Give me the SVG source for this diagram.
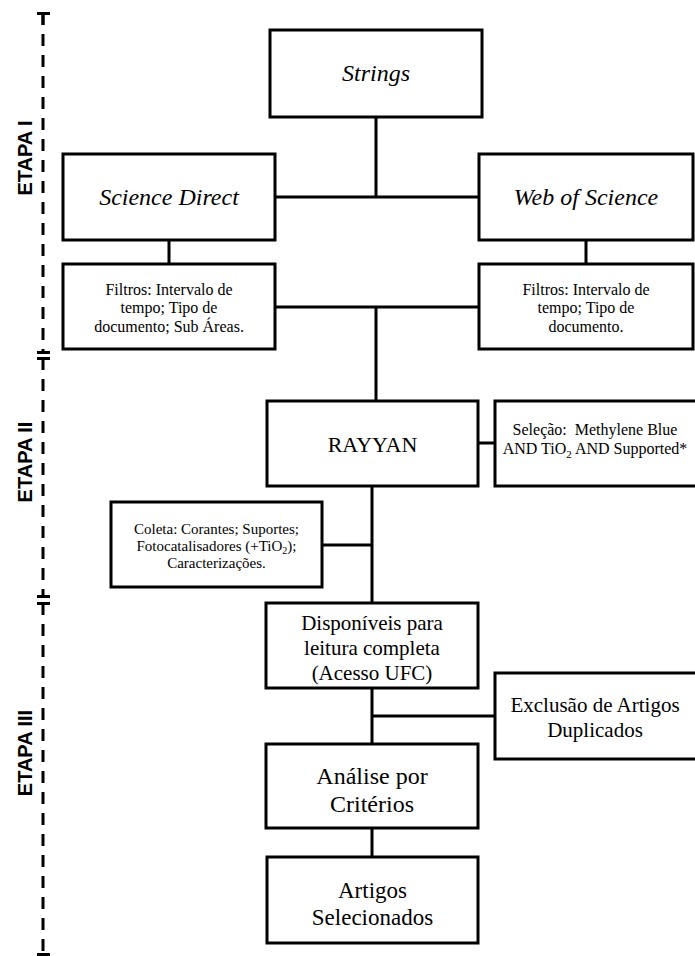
<svg xmlns="http://www.w3.org/2000/svg" width="695" height="956" viewBox="0 0 695 956">
<style>
.box{fill:#fff;stroke:#000;stroke-width:3}
.ln{fill:none;stroke:#000;stroke-width:3}
.dash{fill:none;stroke:#000;stroke-width:3;stroke-dasharray:12 9}
.t{font-family:"Liberation Serif","Times New Roman",serif;fill:#000;text-anchor:middle}
.i{font-style:italic;font-size:24px}
.s16{font-size:16px}
.s15{font-size:15px}
.s21{font-size:21px}
.s22{font-size:22px}
.s24{font-size:24px}
.s23{font-size:23px}
.et{font-family:"Liberation Sans",Arial,sans-serif;font-weight:bold;font-size:20px;fill:#000;text-anchor:middle}
</style>
<rect width="695" height="956" fill="#fff"/>
<g id="stages">
<path class="ln" d="M37,13.5H50M43,13V25M37,352.5H50M37,358.5H50M37,596.5H50M37,603.5H50M37,954.5H50"/>
<path class="dash" d="M43,13V352"/>
<path class="dash" d="M43,358V596"/>
<path class="dash" d="M43,603V954"/>
<text class="et" transform="translate(32,158) rotate(-90)">ETAPA I</text>
<text class="et" transform="translate(32,462) rotate(-90)">ETAPA II</text>
<text class="et" transform="translate(32,753) rotate(-90)">ETAPA III</text>
</g>
<g id="connectors">
<path class="ln" d="M376,117V197M275,197H479M169,240V264M586,240V264M275,307H479M376,307V401M478,443H495M372,486V603M322,545H372M372,688V744M372,716H495M372,828V857"/>
</g>
<g id="strings"><rect class="box" x="270" y="30" width="212" height="87"/><text class="t i" x="376" y="81">Strings</text></g>
<g id="science-direct"><rect class="box" x="63" y="154" width="212" height="86"/><text class="t i" x="169" y="205">Science Direct</text></g>
<g id="web-of-science"><rect class="box" x="479" y="154" width="214" height="86"/><text class="t i" x="586" y="205">Web of Science</text></g>
<g id="filtros-sd"><rect class="box" x="63" y="264" width="212" height="85"/>
<text class="t s16" x="169" y="295">Filtros: Intervalo de</text>
<text class="t s16" x="169" y="313">tempo; Tipo de</text>
<text class="t s16" x="169" y="332">documento; Sub Áreas.</text></g>
<g id="filtros-wos"><rect class="box" x="479" y="264" width="214" height="85"/>
<text class="t s16" x="586" y="295">Filtros: Intervalo de</text>
<text class="t s16" x="586" y="313">tempo; Tipo de</text>
<text class="t s16" x="586" y="332">documento.</text></g>
<g id="rayyan"><rect class="box" x="267" y="401" width="211" height="85"/><text class="t s22" x="372.5" y="452">RAYYAN</text></g>
<g id="selecao"><rect class="box" x="495" y="401" width="210" height="85"/>
<text class="t s16" x="595" y="435" xml:space="preserve">Seleção:  Methylene Blue</text>
<text class="t s16" x="595" y="454">AND TiO<tspan font-size="11" dy="4">2</tspan><tspan dy="-4"> AND Supported*</tspan></text></g>
<g id="coleta"><rect class="box" x="111" y="502" width="211" height="85"/>
<text class="t s15" x="216.5" y="534">Coleta: Corantes; Suportes;</text>
<text class="t s15" x="216.5" y="551">Fotocatalisadores (+TiO<tspan font-size="10" dy="3">2</tspan><tspan dy="-3">);</tspan></text>
<text class="t s15" x="216.5" y="568">Caracterizações.</text></g>
<g id="disponiveis"><rect class="box" x="266" y="603" width="212" height="85"/>
<text class="t s21" x="372" y="630">Disponíveis para</text>
<text class="t s21" x="372" y="655">leitura completa</text>
<text class="t s21" x="372" y="680">(Acesso UFC)</text></g>
<g id="exclusao"><rect class="box" x="495" y="673" width="210" height="86"/>
<text class="t s21" x="595" y="712">Exclusão de Artigos</text>
<text class="t s21" x="595" y="737">Duplicados</text></g>
<g id="analise"><rect class="box" x="266" y="744" width="212" height="84"/>
<text class="t s24" x="372" y="784">Análise por</text>
<text class="t s24" x="372" y="812">Critérios</text></g>
<g id="artigos"><rect class="box" x="267" y="857" width="211" height="86"/>
<text class="t s23" x="372.5" y="898">Artigos</text>
<text class="t s23" x="372.5" y="925">Selecionados</text></g>
</svg>
